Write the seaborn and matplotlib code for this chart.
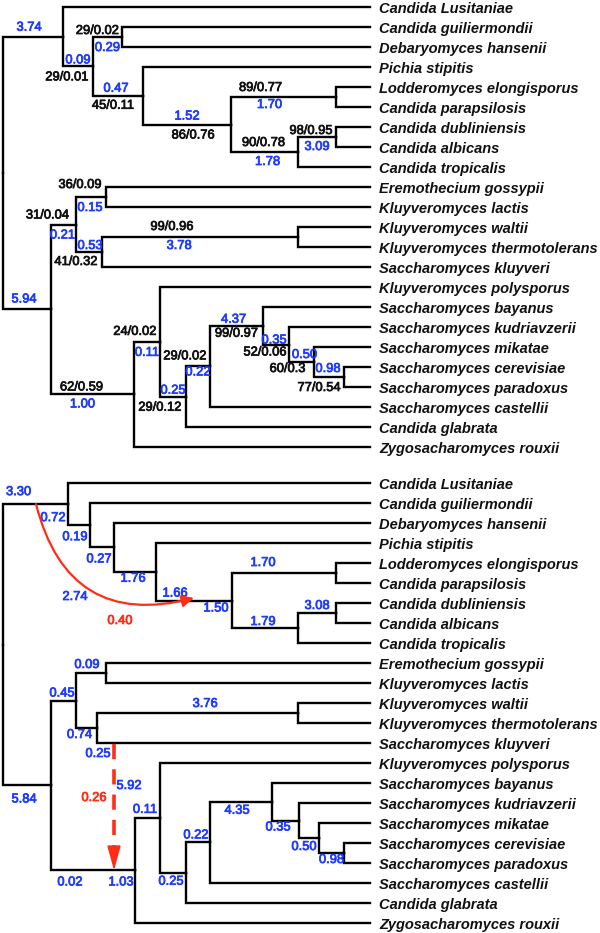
import numpy as np
import pandas as pd
import matplotlib.pyplot as plt
import matplotlib.patheffects as pe
import seaborn as sns

# Leaves (same order in both trees)
species = [
    "Candida Lusitaniae", "Candida guiliermondii", "Debaryomyces hansenii",
    "Pichia stipitis", "Lodderomyces elongisporus", "Candida parapsilosis",
    "Candida dubliniensis", "Candida albicans", "Candida tropicalis",
    "Eremothecium gossypii", "Kluyveromyces lactis", "Kluyveromyces waltii",
    "Kluyveromyces thermotolerans", "Saccharomyces kluyveri",
    "Kluyveromyces polysporus", "Saccharomyces bayanus",
    "Saccharomyces kudriavzerii", "Saccharomyces mikatae",
    "Saccharomyces cerevisiae", "Saccharomyces paradoxus",
    "Saccharomyces castellii", "Candida glabrata", "Zygosacharomyces rouxii",
]

# Internal nodes: name, depth (x), children (leaf index or node)
top_nodes = ["root", "A", "B", "C", "D", "E", "F", "G", "H", "I", "J", "K",
             "L", "M", "N", "O", "P", "Q", "R", "S", "T", "U"]
top_depth = [3, 63, 93, 122, 143, 231, 336, 298, 336, 51, 76, 106,
             102, 298, 134, 160, 186, 210, 263, 289, 314, 344]
top_children = [["A", "I"], [0, "B"], ["C", "D"], [1, 2], [3, "E"], ["F", "G"],
                [4, 5], ["H", 8], [6, 7], ["J", "N"], ["K", "L"], [9, 10],
                ["M", 13], [11, 12], ["O", 22], [14, "P"], ["Q", 21], ["R", 20],
                [15, "S"], [16, "T"], [17, "U"], [18, 19]]

bottom_nodes = top_nodes
bottom_depth = [3, 68, 90, 114, 156, 232, 336, 298, 336, 51, 76, 106,
                97, 298, 135, 160, 186, 210, 272, 299, 319, 344]
bottom_children = [["A", "I"], [0, "B"], [1, "C"], [2, "D"], [3, "E"], ["F", "G"],
                   [4, 5], ["H", 8], [6, 7], ["J", "N"], ["K", "L"], [9, 10],
                   ["M", 13], [11, 12], ["O", 22], [14, "P"], ["Q", 21], ["R", 20],
                   [15, "S"], [16, "T"], [17, "U"], [18, 19]]

# Branch labels (branch leading to the given node)
top_support = [("B", "29/0.01"), ("C", "29/0.02"), ("D", "45/0.11"), ("E", "86/0.76"),
               ("F", "89/0.77"), ("G", "90/0.78"), ("H", "98/0.95"), ("J", "31/0.04"),
               ("K", "36/0.09"), ("L", "41/0.32"), ("M", "99/0.96"), ("N", "62/0.59"),
               ("O", "24/0.02"), ("P", "29/0.12"), ("Q", "29/0.02"), ("R", "99/0.97"),
               ("S", "52/0.06"), ("T", "60/0.3"), ("U", "77/0.54")]
top_length = [("A", "3.74"), ("B", "0.09"), ("C", "0.29"), ("D", "0.47"), ("E", "1.52"),
              ("F", "1.70"), ("G", "1.78"), ("H", "3.09"), ("I", "5.94"), ("J", "0.21"),
              ("K", "0.15"), ("L", "0.53"), ("M", "3.78"), ("N", "1.00"), ("O", "0.11"),
              ("P", "0.25"), ("Q", "0.22"), ("R", "4.37"), ("S", "0.35"), ("T", "0.50"),
              ("U", "0.98")]
bottom_length = [("A", "3.30"), ("A", "0.72"), ("B", "0.19"), ("C", "0.27"), ("D", "1.76"),
                 ("E", "1.66"), ("E", "1.50"), ("F", "1.70"), ("G", "1.79"), ("H", "3.08"),
                 ("I", "5.84"), ("J", "0.45"), ("K", "0.09"), ("L", "0.74"), ("M", "3.76"),
                 (13, "0.25"), ("N", "0.02"), ("N", "1.03"), ("O", "0.11"), ("P", "0.25"),
                 ("Q", "0.22"), ("R", "4.35"), ("S", "0.35"), ("T", "0.50"), ("U", "0.98")]
# transfer events in the lower tree
transfer_curved = ("2.74", "0.40")
transfer_dashed = ("5.92", "0.26")

# label offsets from branch midpoint (pixels)
top_support_off = [(-11, 11), (-10, -6), (-5, 10), (6, 11), (-23, -9), (-1, -9), (-6, -6),
                   (-16, -9), (-11, -12), (-13, 10), (-28, -10), (-11, -7), (-12, -10),
                   (-13, 11), (-13, -10), (0, 8), (-11, 8), (-14, 7), (-10, 11)]
top_length_off = [(-4, -9), (0, -6), (0, 11), (-2, -7), (0, -8), (-14, 8), (3, 10), (0, 10),
                  (-3, -10), (-1, 11), (-1, 11), (1, -6), (-21, 9), (-10, 10), (0, 11),
                  (0, -6), (0, 6), (-3, -6), (-2, -4), (3, -7), (-1, -8)]
bottom_length_off = [(-17, -12), (17.5, 14), (-4, 12), (-3, 12), (-2, 7), (-19, -7), (22, 8),
                     (-21, -10), (-2, -6), (0, -7), (-3, 14), (-1.5, -7), (-4, -8), (-7, 7),
                     (7.5, -9), (-135.5, 11), (-23, 12), (28, 12), (-2.5, -8), (-2, 9),
                     (-2, -7), (-4, 9), (-7.5, 7), (-5, 9), (0, 7)]

BLUE = "#1f3cff"
RED = "#ff2d16"
LEAF_X = 370
ROW = 20.0

sns.set_theme(style="white")
plt.rcParams["font.family"] = ["Liberation Sans", "DejaVu Sans"]


def num_text(ax, x, y, txt, col):
    # slightly heavier than regular weight, like the reference
    ax.text(x, y, txt, fontsize=9.3, color=col, ha="center", va="center",
            path_effects=[pe.withStroke(linewidth=0.55, foreground=col)])


def layout(nodes, depth, children, y0):
    x = dict(zip(nodes, depth))
    y = {}
    for i in range(len(species)):
        x[i] = LEAF_X
        y[i] = y0 + ROW * i
    kids = dict(zip(nodes, children))

    def gety(n):
        if n not in y:
            ch = kids[n]
            y[n] = (gety(ch[0]) + gety(ch[-1])) / 2
        return y[n]

    gety("root")
    parent = {c: n for n, ch in kids.items() for c in ch}
    return x, y, parent


def draw_tree(ax, nodes, depth, children, y0, labels):
    x, y, parent = layout(nodes, depth, children, y0)
    rows = []
    for k, (c, p) in enumerate(parent.items()):
        for px, py in [(x[p], y[p]), (x[p], y[c]), (x[c], y[c])]:
            rows.append({"edge": k, "x": px, "y": py})
    edges = pd.DataFrame(rows)
    sns.lineplot(data=edges, x="x", y="y", units="edge", estimator=None, sort=False,
                 color="black", linewidth=1.7, ax=ax, legend=False,
                 solid_joinstyle="miter", solid_capstyle="projecting")
    for i, name in enumerate(species):
        ax.text(LEAF_X + 9, y[i] + 2, name, fontsize=10.5, fontweight="bold",
                fontstyle="italic", ha="left", va="center", color="#111111")
    for items, offs, col in labels:
        for (node, txt), (dx, dy) in zip(items, offs):
            mx = (x[parent[node]] + x[node]) / 2
            num_text(ax, mx + dx, y[node] + dy, txt, col)
    return x, y


fig = plt.figure(figsize=(6, 9.33), dpi=100)
ax = fig.add_axes([0, 0, 1, 1])

draw_tree(ax, top_nodes, top_depth, top_children, 7,
          [(top_support, top_support_off, "#111111"), (top_length, top_length_off, BLUE)])
bx, by = draw_tree(ax, bottom_nodes, bottom_depth, bottom_children, 483,
                   [(bottom_length, bottom_length_off, BLUE)])

# curved transfer arrow: root->A branch onto the D->E branch
start = (36, by["A"])
end = (194, by["E"] - 2.5)
ax.annotate("", xy=end, xytext=start,
            arrowprops=dict(arrowstyle="-|>,head_length=0.45,head_width=0.22",
                            connectionstyle="arc3,rad=0.5", color=RED, lw=1.6,
                            mutation_scale=16, shrinkA=0, shrinkB=0))
num_text(ax, 75, by["E"] - 3.5, transfer_curved[0], BLUE)
num_text(ax, 120, by["E"] + 20.5, transfer_curved[1], RED)

# dashed transfer arrow: kluyveri branch down to the I->N branch
tx = 114
ax.plot([tx, tx], [by[13] + 1, by["N"] - 14], color=RED, lw=2.6,
        linestyle=(0, (4.2, 2.8)), solid_capstyle="butt")
ax.annotate("", xy=(tx, by["N"]), xytext=(tx, by["N"] - 16),
            arrowprops=dict(arrowstyle="-|>,head_length=0.95,head_width=0.26",
                            color=RED, lw=1.2, mutation_scale=16, shrinkA=0, shrinkB=0))
num_text(ax, tx + 15, by[13] + 43, transfer_dashed[0], BLUE)
num_text(ax, tx - 20, by[13] + 55, transfer_dashed[1], RED)

ax.set_xlim(0, 600)
ax.set_ylim(933, 0)
ax.axis("off")

fig.savefig("out.png", dpi=100, facecolor="white")
